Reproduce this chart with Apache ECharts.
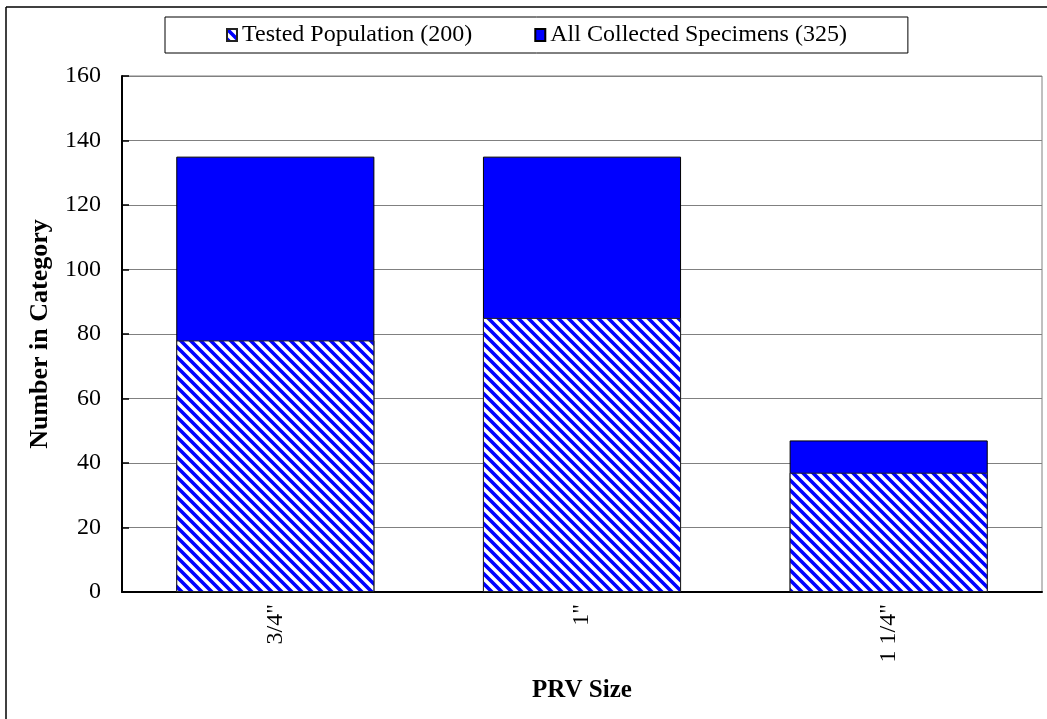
<!DOCTYPE html>
<html>
<head>
<meta charset="utf-8">
<script src="https://cdn.jsdelivr.net/npm/echarts@6/dist/echarts.min.js"></script>
<style>
html,body{margin:0;padding:0;background:#fff;}
#chart{width:1047px;height:719px;}
</style>
</head>
<body>
<div id="chart"></div>
<script>
var categories = ['3/4"', '1"', '1 1/4"'];
var testedValues = [78, 85, 37];
var collectedValues = [135, 135, 47];
var yTicks = [0, 20, 40, 60, 80, 100, 120, 140, 160];
var testedName = 'Tested Population (200)';
var collectedName = 'All Collected Specimens (325)';

function makeHatch() {
  var c = document.createElement('canvas');
  var s = 10;
  c.width = s; c.height = s;
  var ctx = c.getContext('2d');
  ctx.fillStyle = '#ffffff';
  ctx.fillRect(0, 0, s, s);
  ctx.strokeStyle = '#0000ff';
  ctx.lineWidth = 3.6;
  ctx.beginPath();
  ctx.moveTo(-s, -s); ctx.lineTo(2 * s, 2 * s);
  ctx.moveTo(0, -s); ctx.lineTo(2 * s, s);
  ctx.moveTo(-s, 0); ctx.lineTo(s, 2 * s);
  ctx.stroke();
  return c;
}
var hatch = makeHatch();
var font = 'Liberation Serif';

var chart = echarts.init(document.getElementById('chart'), null, {renderer: 'canvas'});
chart.setOption({
  animation: false,
  backgroundColor: '#ffffff',
  graphic: [
    {type: 'line', shape: {x1: 6, y1: 7, x2: 1047, y2: 7}, style: {stroke: '#000', lineWidth: 1.5}},
    {type: 'line', shape: {x1: 6, y1: 7, x2: 6, y2: 719}, style: {stroke: '#000', lineWidth: 1.5}}
  ],
  legend: {
    data: [testedName, collectedName],
    left: 165,
    top: 17,
    padding: [6, 61, 6, 61],
    itemGap: 62,
    itemWidth: 10,
    itemHeight: 12,
    icon: 'rect',
    borderColor: '#000',
    borderWidth: 1,
    textStyle: {fontFamily: font, fontSize: 24, color: '#000'}
  },
  grid: {
    left: 122, right: 5, top: 76, bottom: 127,
    show: true, borderColor: '#808080', borderWidth: 1,
    containLabel: false
  },
  xAxis: {
    type: 'category',
    data: categories,
    name: 'PRV Size',
    nameLocation: 'middle',
    nameGap: 86,
    nameTextStyle: {fontFamily: font, fontSize: 25, fontWeight: 'bold', color: '#000'},
    axisLine: {lineStyle: {color: '#000', width: 2}},
    axisTick: {show: false},
    axisLabel: {rotate: 90, margin: 12, fontFamily: font, fontSize: 24, color: '#000'}
  },
  yAxis: {
    type: 'value',
    min: yTicks[0],
    max: yTicks[yTicks.length - 1],
    interval: 20,
    name: 'Number in Category',
    nameLocation: 'middle',
    nameGap: 69,
    nameTextStyle: {fontFamily: font, fontSize: 26, fontWeight: 'bold', color: '#000'},
    axisLine: {show: true, lineStyle: {color: '#000', width: 2}},
    axisTick: {show: true, inside: true, length: 7, lineStyle: {color: '#000', width: 1.5}},
    axisLabel: {margin: 21, fontFamily: font, fontSize: 24, color: '#000'},
    splitLine: {show: true, lineStyle: {color: '#808080', width: 1.2}}
  },
  series: [
    {
      name: collectedName,
      type: 'bar',
      data: collectedValues,
      barWidth: '64.6%',
      barGap: '-100%',
      z: 2,
      itemStyle: {color: '#0000ff', borderColor: '#000', borderWidth: 1}
    },
    {
      name: testedName,
      type: 'bar',
      data: testedValues,
      barWidth: '64.6%',
      barGap: '-100%',
      z: 3,
      itemStyle: {color: {image: hatch, repeat: 'repeat'}, borderColor: '#222', borderWidth: 1}
    }
  ]
});
</script>
</body>
</html>
